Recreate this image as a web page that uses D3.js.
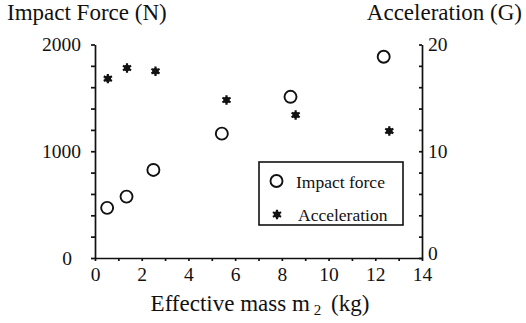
<!DOCTYPE html>
<html>
<head>
<meta charset="utf-8">
<script src="https://cdn.jsdelivr.net/npm/d3@7"></script>
<style>
  body { margin: 0; background: #fff; }
  svg { display: block; font-family: "Liberation Serif", "Times New Roman", serif; }
</style>
</head>
<body>
<svg id="chart" width="526" height="323"></svg>
<script>
// data
const massForce = [0.52, 1.35, 2.5, 5.43, 8.37, 12.36];
const impactForce = [470, 575, 825, 1165, 1510, 1885];
const massAccel = [0.55, 1.37, 2.59, 5.63, 8.59, 12.6];
const acceleration = [16.8, 17.8, 17.5, 14.8, 13.4, 11.9];

const xLabels = [0, 2, 4, 6, 8, 10, 12, 14];
const forceLabels = [0, 1000, 2000];
const accelLabels = [0, 10, 20];

const svg = d3.select("#chart");
const ink = "#111";
const serif = "Liberation Serif, Times New Roman, serif";

const x = d3.scaleLinear().domain([0, 14]).range([95, 422]);
const yF = d3.scaleLinear().domain([0, 2000]).range([258, 44.5]);
const yA = d3.scaleLinear().domain([0, 20]).range([258, 44.5]);

function styleAxis(g, size) {
  g.selectAll("path, line").attr("stroke", ink).attr("stroke-width", 1.7);
  g.selectAll("text").attr("fill", ink).attr("font-size", size).attr("font-family", serif);
}

// left axis
svg.append("g")
  .attr("transform", `translate(${x(0)},0)`)
  .call(d3.axisLeft(yF)
    .tickValues(d3.range(0, 2001, 200))
    .tickFormat(d => forceLabels.includes(d) ? d : "")
    .tickSize(4).tickSizeOuter(0).tickPadding(10))
  .call(g => styleAxis(g, 19.5))
  .call(g => g.selectAll(".tick text").filter(d => d === 0).attr("dx", -9));

// right axis, ticks point inward
svg.append("g")
  .attr("transform", `translate(${x(14)},0)`)
  .call(d3.axisRight(yA)
    .tickValues(d3.range(0, 21, 2))
    .tickFormat(d => accelLabels.includes(d) ? d : "")
    .tickSize(-3).tickSizeOuter(0).tickPadding(6))
  .call(g => styleAxis(g, 19.5))
  .call(g => g.selectAll(".tick text").filter(d => d === 0).attr("dy", "0.1em"));

// bottom axis
svg.append("g")
  .attr("transform", `translate(0,${yF(0)})`)
  .call(d3.axisBottom(x)
    .tickValues(d3.range(0, 15, 1))
    .tickFormat(d => xLabels.includes(d) ? d : "")
    .tickSize(3).tickSizeOuter(0).tickPadding(6))
  .call(g => styleAxis(g, 19.5));

// axis titles
svg.append("text")
  .attr("x", 7).attr("y", 20)
  .attr("font-size", 23).attr("fill", ink)
  .text("Impact Force (N)");

svg.append("text")
  .attr("x", 522).attr("y", 20)
  .attr("text-anchor", "end")
  .attr("font-size", 23).attr("fill", ink)
  .text("Acceleration (G)");

const xTitle = svg.append("text")
  .attr("x", 260).attr("y", 311)
  .attr("text-anchor", "middle")
  .attr("font-size", 23).attr("fill", ink);
xTitle.append("tspan").text("Effective mass m");
xTitle.append("tspan").attr("dx", 4).attr("dy", 4).attr("font-size", 15).text("2");
xTitle.append("tspan").attr("dx", 4).attr("dy", -4).text(" (kg)");

// markers
const star = d3.symbol(d3.symbolAsterisk).size(62);

function drawCircle(sel, cx, cy) {
  sel.append("circle")
    .attr("cx", cx).attr("cy", cy).attr("r", 6)
    .attr("fill", "#fff").attr("stroke", ink).attr("stroke-width", 1.9);
}

function drawStar(sel, cx, cy) {
  const g = sel.append("g").attr("transform", `translate(${cx},${cy})`);
  g.append("path").attr("d", star()).attr("stroke", ink).attr("stroke-width", 2.2).attr("fill", ink);
  g.append("circle").attr("r", 3.2).attr("fill", ink);
}

const pts = svg.append("g");
massForce.forEach((m, i) => drawCircle(pts, x(m), yF(impactForce[i])));
massAccel.forEach((m, i) => drawStar(pts, x(m), yA(acceleration[i])));

// legend
const legend = svg.append("g");
legend.append("rect")
  .attr("x", 259).attr("y", 162).attr("width", 144).attr("height", 63)
  .attr("fill", "#fff").attr("stroke", ink).attr("stroke-width", 1.6);
drawCircle(legend, 276.5, 181);
legend.append("text").attr("x", 296).attr("y", 187.5)
  .attr("font-size", 17.5).attr("fill", ink).text("Impact force");
drawStar(legend, 277, 214.5);
legend.append("text").attr("x", 298).attr("y", 220.5)
  .attr("font-size", 17.5).attr("fill", ink).text("Acceleration");
</script>
</body>
</html>
